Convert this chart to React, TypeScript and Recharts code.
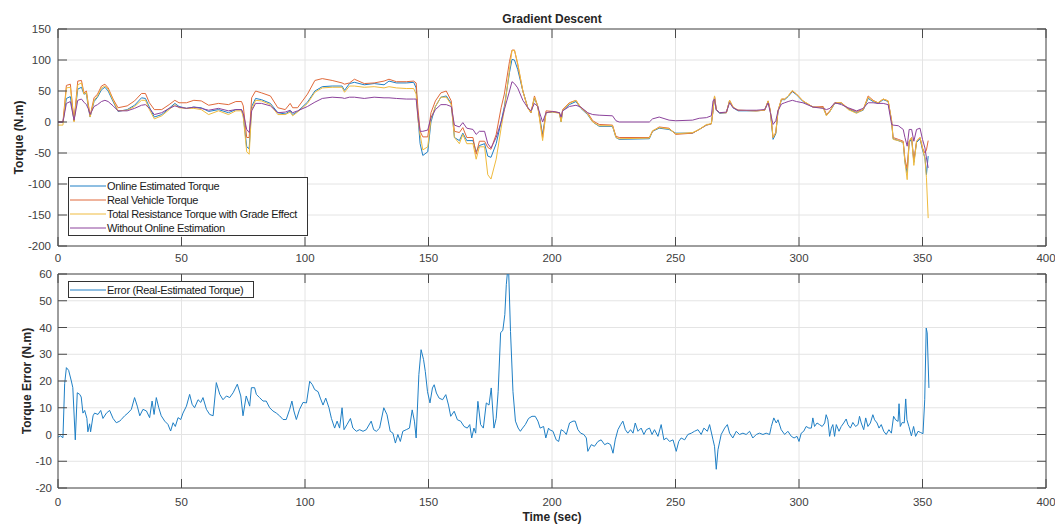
import { CartesianGrid, Legend, Line, LineChart, ReferenceLine, XAxis, YAxis } from "recharts";

// ---- top panel: torque traces (N.m) over time (sec) ----
const torqueTime = [
  0, 2, 3.4, 5, 6.5, 8, 9.5, 10.5, 11.5, 12.2,
  13, 14.6, 16, 17.6, 19, 20.3, 22.3, 24.3, 28, 31,
  33.8, 35.4, 37, 39, 42, 45, 47.3, 49, 52, 55,
  58, 61, 65, 69, 72, 74.3, 75, 76.4, 77.4, 78.4,
  80, 82.4, 86, 89, 92, 94, 95, 97, 101, 104,
  107, 111, 115, 116, 118, 120, 124, 128, 132, 134,
  137, 141, 144, 145, 145.7, 146.6, 147.7, 149.7, 151, 152.8,
  155, 157.2, 159.2, 160.5, 162.5, 163.9, 165.5, 168, 169.3, 170.6,
  172.7, 174, 175.3, 177.4, 179.4, 180.7, 182.8, 183.8, 184.8, 186.1,
  188.2, 190.2, 191.5, 192.9, 194.2, 196.2, 197.6, 200.3, 203, 203.7,
  204.3, 207, 209.7, 211.7, 214.4, 216.5, 219.1, 224.5, 225.9, 227.2,
  239.4, 240.7, 243.4, 247.4, 250.1, 256.9, 259.6, 262.5, 264.5, 265.2,
  265.8, 266.5, 267.9, 270.6, 271.9, 273.3, 275.3, 282.7, 286.1, 287.5,
  288.4, 289.5, 290.6, 291.5, 292.9, 294.2, 295.6, 297.3, 299, 301.6,
  305.7, 309.8, 311.1, 312.5, 314.5, 317.2, 319.9, 323.3, 326, 328,
  330, 332, 334.1, 336.1, 337.5, 338.1, 340.2, 342.2, 342.9, 343.8,
  344.6, 345.6, 346.5, 347.6, 349, 350, 351, 351.6, 352.3,
];

const estimatedTorque = [
  0, 0, 38, 41, 2, 53, 56, 45, 46, 25,
  8, 33, 40, 52, 56, 50, 33, 17, 20, 27,
  39, 38, 24, 8, 12, 22, 30, 25, 22, 24,
  23, 17, 20, 15, 20, 20, 10, -40, -43, 25,
  38, 36, 30, 15, 13, 18, 12, 17, 32, 50,
  57, 58, 58, 51, 62, 64, 60, 62, 60, 66,
  63, 63, 64, 55, 10, -35, -54, -48, 0, 25,
  40, 42, 30, -25, -30, -18, -30, -30, -48, -38,
  -35, -55, -57, -35, 0, 25, 80, 101, 100, 85,
  50, 23, 15, 38, 26, -20, 15, 16, 15, 0,
  18, 28, 33, 22, 12, 0, -7, -7, -25, -28,
  -27, -15, -10, -12, -18, -18, -12, -5, -3, 18,
  40, 19, 14, 15, 34, 23, 18, 18, 19, 33,
  17, -28, -19, 17, 36, 36, 41, 49, 44, 33,
  24, 23, 11, 17, 30, 30, 21, 15, 19, 38,
  33, 30, 36, 33, 0, -27, -30, -33, -65, -82,
  -33, -27, -65, -33, -27, -45, -58, -85, -55,
];

const realTorque = [
  0, 0, 59, 61, 2, 66, 67, 47, 50, 31,
  10, 39, 45, 58, 61, 55, 37, 23, 26, 34,
  46, 46, 31, 20, 20, 28, 35, 31, 31, 35,
  34, 27, 30, 28, 33, 33, 26, -25, -25, 39,
  50, 47, 42, 23, 20, 30, 23, 23, 45, 67,
  70, 67, 63, 61, 63, 69, 62, 63, 66, 69,
  65, 65, 66, 63, 23, -15, -24, -24, 15, 34,
  47, 50, 34, -15, -17, -9, -25, -25, -52, -31,
  -31, -41, -44, -20, 23, 45, 98, 116, 116, 93,
  50, 23, 15, 42, 26, -25, 18, 17, 15, 2,
  20, 31, 35, 23, 15, 2, -4, -5, -23, -25,
  -25, -15, -8, -10, -20, -18, -12, -5, -3, 18,
  42, 20, 15, 15, 35, 24, 19, 18, 19, 34,
  18, -25, -17, 18, 37, 37, 42, 50, 45, 34,
  24, 25, 12, 18, 31, 31, 22, 17, 20, 42,
  35, 31, 37, 34, 2, -25, -28, -31, -60, -75,
  -31, -25, -62, -31, -25, -42, -50, -45, -30,
];

const resistanceTorque = [
  -5, -5, 55, 56, 0, 60, 63, 45, 48, 28,
  8, 35, 42, 55, 58, 53, 35, 18, 19, 25,
  35, 35, 20, 5, 10, 20, 28, 23, 22, 22,
  20, 12, 18, 12, 18, 18, 8, -48, -52, 20,
  35, 34, 28, 12, 12, 16, 10, 16, 30, 48,
  55, 56, 56, 48, 58, 58, 56, 57, 55, 57,
  55, 54, 54, 45, 5, -20, -45, -40, 5, 25,
  40, 40, 28, -25, -35, -20, -35, -35, -60, -40,
  -40, -85, -92, -60, -10, 20, 85, 115, 116, 95,
  50, 22, 15, 40, 26, -30, 15, 16, 14, 0,
  19, 30, 35, 23, 13, 0, -6, -6, -25, -27,
  -26, -14, -9, -11, -19, -17, -12, -4, -3, 18,
  42, 20, 15, 15, 35, 24, 19, 18, 19, 34,
  18, -25, -17, 18, 37, 37, 42, 51, 45, 34,
  24, 23, 10, 17, 31, 31, 20, 14, 20, 40,
  34, 31, 37, 34, 2, -28, -30, -33, -65, -93,
  -31, -25, -70, -31, -25, -42, -60, -90, -155,
];

const withoutEstimation = [
  0, 0, 30, 33, 3, 35, 37, 32, 28, 22,
  12, 25, 28, 33, 35, 33, 26, 18, 18, 22,
  27, 28, 22, 12, 15, 22, 26, 24, 22, 24,
  22, 19, 22, 18, 20, 20, 14, -12, -17, 18,
  30, 30, 26, 15, 16, 19, 15, 18, 25, 32,
  38, 40, 39, 38, 40, 40, 38, 40, 39, 39,
  38, 37, 37, 37, 10, -15, -15, -13, 7, 20,
  28, 28, 25, -5, -8, -1, -10, -12, -20, -15,
  -15, -35, -42, -25, 0, 20, 50, 65, 62, 55,
  35, 23, 18, 30, 25, 0, 15, 17, 15, 8,
  18, 25, 27, 24, 15, 12, 11, 10, 2, 0,
  0, 5, 8, 3, 2, 3, 6, 7, 10, 34,
  37, 20, 15, 16, 31, 23, 19, 19, 20, 31,
  15, -4, 2, 18, 29, 31, 33, 35, 33, 31,
  24, 22, 20, 22, 31, 28, 23, 18, 22, 31,
  31, 30, 30, 28, -4, -5, -6, -12, -25, -39,
  -12, -12, -31, -12, -10, -28, -42, -58, -74,
];

// ---- bottom panel: error (real - estimated) ----
const errorTime = [
  0, 1, 2, 2.7, 3.4, 4.3, 5.4, 6, 7, 7.8,
  8.8, 9.4, 10.1, 10.8, 11.7, 12.1, 12.8, 13.2, 14.2, 14.8,
  16.2, 17.3, 18.2, 19.6, 20.9, 22.3, 23.6, 25, 25.6, 27,
  28.3, 29.7, 31, 32.1, 33.1, 34.4, 35.8, 37.1, 38.1, 38.9,
  39.8, 40.8, 41.8, 43.2, 44.5, 45.6, 46.6, 47.5, 48.6, 49.7,
  50.6, 52, 53.3, 54.3, 55.3, 56.7, 57.8, 58.7, 60.1, 61.4,
  62.8, 64.1, 65.5, 66.8, 68.2, 69.5, 70.9, 72.6, 74, 74.9,
  76.2, 77.6, 78.3, 79.6, 80.3, 81.6, 83, 84.3, 85.7, 87,
  88.4, 89.7, 91.1, 92.4, 93.8, 94.7, 95.5, 96.5, 97.8, 99.2,
  100.6, 101.9, 103, 103.9, 105.3, 106.2, 107.3, 108.4, 109.7, 110.7,
  112, 113, 114, 115, 115.8, 117, 118.4, 119.4, 120.8, 122.1,
  123.5, 124.8, 126.8, 127.8, 128.9, 130.2, 131.9, 133.2, 134.5, 135.6,
  136.6, 137.6, 138.6, 139.6, 141, 142.3, 143.4, 144.3, 145, 146.1,
  147, 148, 148.7, 149.6, 150.6, 151.6, 152.3, 153.2, 154.3, 155.7,
  157, 158.1, 159, 160.4, 161.7, 163, 164.4, 165.7, 166.7, 167.5,
  168.4, 169.1, 170, 171.1, 172.2, 173.4, 174.5, 175.4, 176.5, 177.4,
  178.2, 179.2, 180.1, 180.9, 181.5, 182, 182.5, 183.2, 184.2, 185.2,
  186.3, 187.2, 188.1, 189.2, 190.5, 191.9, 193.2, 194.3, 195.2, 196.6,
  197.5, 198.6, 199, 200.4, 201.7, 202.7, 203.7, 204.8, 205.8, 207.1,
  208.5, 209.4, 210.5, 211.6, 212.9, 213.9, 214.5, 215.9, 217.2, 218.6,
  219.9, 221.3, 222.6, 223.7, 224.7, 225.6, 226.7, 227.8, 228.7, 229.7,
  230.7, 231.8, 232.8, 233.7, 234.8, 236.1, 237.2, 238.2, 239.5, 240.5,
  241.5, 242.9, 244.2, 245.3, 246.3, 247.6, 249, 250.3, 251.3, 252.3,
  253.7, 255, 256.4, 257.7, 259.1, 260.4, 261.5, 262.9, 263.8, 265.2,
  265.8, 266.5, 267.2, 268.5, 269.9, 271, 271.9, 273.2, 274.6, 275.9,
  277.3, 278.6, 280, 281.3, 282.7, 284, 285.4, 286.7, 288.1, 288.8,
  289.8, 290.8, 291.5, 292.8, 294.2, 295.5, 296.9, 298, 299.2, 300,
  300.9, 301.9, 302.9, 304, 305, 305.6, 306.3, 307.3, 308.3, 309.4,
  310.4, 311, 311.7, 312.4, 313.1, 313.7, 314.4, 315.1, 316.2, 317.1,
  318.1, 319.1, 319.8, 320.8, 321.8, 322.9, 323.9, 324.5, 325.2, 326.2,
  327, 327.9, 328.9, 329.9, 330.6, 331.6, 332.4, 333.3, 334.3, 335.3,
  336.4, 337.4, 338.3, 339.1, 340.1, 340.5, 341, 341.8, 342.6, 343.2,
  343.7, 344.5, 345.5, 346.4, 347.2, 348.2, 349.1, 350.2, 350.9, 351.5,
  351.9, 352.6,
];

const errorValue = [
  -1, -0.5, -1.2, 19, 25, 24, 20, 17.5, -2, 15.6,
  15, 14, 8, 9, 6, 1, 4, 1, 7, 8,
  7.5, 9, 6, 8, 9, 6, 4.4, 5, 5.6, 7,
  8, 9.4, 13.8, 10.6, 7, 9.4, 8.8, 6.3, 12.5, 7.5,
  13.8, 10, 7, 5, 3.8, 1.3, 4.4, 3, 6.3, 5.6,
  8, 10.6, 15, 11.3, 10, 13, 12, 13.8, 9.4, 7.5,
  7, 19.4, 15, 13, 14.4, 13.8, 15.6, 18.8, 14.4, 7,
  14.4, 10.6, 17.5, 17.5, 15, 13.8, 12.5, 12.5, 10, 8.8,
  8, 7, 5.6, 5.6, 9.4, 12.5, 8.8, 5.6, 9.4, 12,
  11.8, 19.9, 18.6, 16.8, 16, 13.6, 11, 13.6, 10, 6,
  2.4, 5, 2.4, 10, 1.8, 3.7, 6, 2.4, 1.2, 1.8,
  1.2, 1.8, 5, 1.8, 1.2, 2.4, 10, 7.4, 1.2, 0.5,
  -3.2, 0, -2.6, 1.2, 1.8, 2.4, 9.2, 5, -1.3, 22.4,
  31.7, 28, 23.6, 16, 11.8, 17.4, 18.6, 15.5, 13.6, 13,
  14.9, 11, 6.8, 8.7, 5.5, 5, 3, 2.4, 3.7, -1.3,
  2.4, 0.5, 12.4, 3.7, 2.4, 11.8, 11, 17.4, 2.4, 6,
  16, 38, 39, 44.8, 56, 61, 59.7, 38.5, 16, 5,
  2.4, 1.2, 2.4, 3.7, 6, 6.8, 6.8, 5, 2.4, 3,
  -1.3, 2.4, 1.8, 1.2, -2, -2.6, 1.8, 1.2, 0, 4.3,
  5, 5, 1.8, 0.5, 0, -1.3, -6.3, -3.8, -4.4, -2.6,
  -2, -3.8, -3.2, -3.8, -7, -2, 1.8, 3.7, 5, 1.8,
  0.5, 1.8, 0.5, 4.3, 1.2, 2.4, 0, 1.8, 2.4, 0,
  1.8, -0.7, 3.7, -2, -1.3, -2.6, -2, -6.3, -2.6, -1.3,
  -2, 0, 0.5, 1.2, 1.8, 0, 2.4, 1.2, 3.7, -2,
  -4.4, -13, -5.7, 0, 2.4, 3.7, 0.5, -1.3, 1.2, 0,
  0.5, 0, 1.2, -1.3, 0, 0.5, 0, 0.5, 0, 3,
  6.2, 4.3, 5.5, 1.8, 0, 1.2, -0.7, -1.3, -0.7, -2.6,
  0.5, 1.2, 3, 2.4, 2.4, 6.2, 3, 4.3, 3.7, 3,
  4.3, 7.4, 5.5, -0.7, 2.4, 3.7, -0.7, 3.7, 1.2, 3,
  4.3, 5.8, 3.7, 2.4, 4.5, 3, 3.7, 6.8, 4.3, 1.8,
  6.2, 3, 4.3, 7.4, 5.5, 4.3, 2.4, 3.7, 1.2, 0,
  1.8, 0.5, 6.8, 5.5, 4.9, 11.5, 3, 4.5, 4.3, 13.3,
  5.5, 3, -0.5, 3, -0.7, 1.2, 0.8, 0.3, 13, 39.8,
  38, 17.4,
];

const timeTicks = [0, 50, 100, 150, 200, 250, 300, 350, 400];
const torqueTicks = [-200, -150, -100, -50, 0, 50, 100, 150];
const errorTicks = [-20, -10, 0, 10, 20, 30, 40, 50, 60];

const torqueSeries = [
  { key: "estimated", name: "Online Estimated Torque", color: "#1f7fc5", values: estimatedTorque },
  { key: "real", name: "Real Vehicle Torque", color: "#e0693a", values: realTorque },
  { key: "resistance", name: "Total Resistance Torque with Grade Effect", color: "#efbb3e", values: resistanceTorque },
  { key: "without", name: "Without Online Estimation", color: "#8c439c", values: withoutEstimation },
];
const errorSeries = { key: "error", name: "Error (Real-Estimated Torque)", color: "#1f7fc5" };

const torqueData = torqueTime.map((t, i) => {
  const row: Record<string, number> = { t };
  torqueSeries.forEach((s) => (row[s.key] = s.values[i]));
  return row;
});
const errorData = errorTime.map((t, i) => ({ t, error: errorValue[i] }));

// plot box (matlab-ish framing)
const PLOT_LEFT = 58;
const PLOT_RIGHT = 1046;
const AXIS = "#4a4a4a";
const LABEL = "#404040";
const GRID = "#e4e4e4";
const TICK_LEN = 9;
const FONT = "'Liberation Sans', Arial, Helvetica, sans-serif";

function yTick(props: any) {
  const { x, y, payload } = props;
  return (
    <g>
      <line x1={PLOT_LEFT} x2={PLOT_LEFT + TICK_LEN} y1={y} y2={y} stroke={AXIS} />
      <line x1={PLOT_RIGHT} x2={PLOT_RIGHT - TICK_LEN} y1={y} y2={y} stroke={AXIS} />
      <text x={x} y={y} dy="0.35em" textAnchor="end" fontSize={11.5} fill={LABEL}>
        {payload.value}
      </text>
    </g>
  );
}

function makeXTick(plotTop: number, plotBottom: number, labelGap: number) {
  return (props: any) => {
    const { x, payload } = props;
    return (
      <g>
        <line x1={x} x2={x} y1={plotBottom} y2={plotBottom - TICK_LEN} stroke={AXIS} />
        <line x1={x} x2={x} y1={plotTop} y2={plotTop + TICK_LEN} stroke={AXIS} />
        <text x={x} y={plotBottom + labelGap} textAnchor="middle" fontSize={11.5} fill={LABEL}>
          {payload.value}
        </text>
      </g>
    );
  };
}

function boldText(text: string, x: number, y: number, rotate = false) {
  return () => (
    <text
      x={x}
      y={y}
      transform={rotate ? `rotate(-90 ${x} ${y})` : undefined}
      textAnchor="middle"
      dominantBaseline={rotate ? "central" : undefined}
      fontSize={12}
      fontWeight="bold"
      fill="#262626"
    >
      {text}
    </text>
  );
}

function LegendBox({ items, width, height }: { items: { name: string; color: string }[]; width: number; height: number }) {
  return (
    <div
      style={{
        boxSizing: "border-box",
        width,
        height,
        border: "1px solid #333",
        background: "#fff",
        paddingTop: 1,
        fontSize: 11,
        letterSpacing: -0.35,
        lineHeight: "14px",
        color: "#1a1a1a",
        fontFamily: FONT,
      }}
    >
      {items.map((it) => (
        <div key={it.name} style={{ display: "flex", alignItems: "center", whiteSpace: "nowrap", height: 14 }}>
          <svg width={38} height={14} style={{ flex: "none" }}>
            <line x1={1} x2={37} y1={7} y2={7} stroke={it.color} strokeWidth={1} />
          </svg>
          <span>{it.name}</span>
        </div>
      ))}
    </div>
  );
}

export default function App() {
  // top panel: svg 0..272, plot 29..246
  const topH = 272;
  const topTop = 29;
  const topBottom = 246;
  // bottom panel: svg starts at page y=262, plot 274..488 on the page
  const botOffset = 262;
  const botH = 263;
  const botTop = 12;
  const botBottom = 226;

  return (
    <div
      style={{
        position: "absolute",
        left: 0,
        top: 0,
        width: 1055,
        height: 525,
        background: "#fff",
        fontFamily: FONT,
      }}
    >
      <div style={{ position: "absolute", left: 0, top: botOffset }}>
        <LineChart width={1055} height={botH} data={errorData} margin={{ top: botTop, right: 1055 - PLOT_RIGHT, left: 0, bottom: 0 }}>
          <CartesianGrid stroke={GRID} />
          <XAxis
            dataKey="t"
            type="number"
            domain={[0, 400]}
            ticks={timeTicks}
            interval={0}
            height={botH - botBottom}
            tickLine={false}
            tickSize={0}
            axisLine={{ stroke: AXIS }}
            tick={makeXTick(botTop, botBottom, 18)}
            allowDataOverflow
            label={boldText("Time (sec)", (PLOT_LEFT + PLOT_RIGHT) / 2, 259)}
          />
          <YAxis
            domain={[-20, 60]}
            ticks={errorTicks}
            interval={0}
            width={PLOT_LEFT}
            tickLine={false}
            tickSize={0}
            tickMargin={6}
            axisLine={{ stroke: AXIS }}
            tick={yTick}
            allowDataOverflow
            label={boldText("Torque Error (N.m)", 27, (botTop + botBottom) / 2, true)}
          />
          <ReferenceLine y={60} stroke={AXIS} />
          <ReferenceLine x={400} stroke={AXIS} />
          <Line
            dataKey={errorSeries.key}
            name={errorSeries.name}
            type="linear"
            stroke={errorSeries.color}
            strokeWidth={1}
            dot={false}
            activeDot={false}
            isAnimationActive={false}
          />
          <Legend
            layout="vertical"
            align="center"
            verticalAlign="middle"
            wrapperStyle={{ left: 68, top: 19, width: 186, height: 17 }}
            content={() => <LegendBox items={[errorSeries]} width={186} height={17} />}
          />
        </LineChart>
      </div>

      <div style={{ position: "absolute", left: 0, top: 0 }}>
        <LineChart width={1055} height={topH} data={torqueData} margin={{ top: topTop, right: 1055 - PLOT_RIGHT, left: 0, bottom: 0 }}>
          <CartesianGrid stroke={GRID} />
          <XAxis
            dataKey="t"
            type="number"
            domain={[0, 400]}
            ticks={timeTicks}
            interval={0}
            height={topH - topBottom}
            tickLine={false}
            tickSize={0}
            axisLine={{ stroke: AXIS }}
            tick={makeXTick(topTop, topBottom, 16)}
            allowDataOverflow
          />
          <YAxis
            domain={[-200, 150]}
            ticks={torqueTicks}
            interval={0}
            width={PLOT_LEFT}
            tickLine={false}
            tickSize={0}
            tickMargin={7}
            axisLine={{ stroke: AXIS }}
            tick={yTick}
            allowDataOverflow
            label={boldText("Torque (N.m)", 19, (topTop + topBottom) / 2, true)}
          />
          <ReferenceLine y={150} stroke={AXIS} label={boldText("Gradient Descent", (PLOT_LEFT + PLOT_RIGHT) / 2, 23)} />
          <ReferenceLine x={400} stroke={AXIS} />
          {torqueSeries.map((s) => (
            <Line
              key={s.key}
              dataKey={s.key}
              name={s.name}
              type="linear"
              stroke={s.color}
              strokeWidth={1}
              dot={false}
              activeDot={false}
              isAnimationActive={false}
            />
          ))}
          <Legend
            layout="vertical"
            align="center"
            verticalAlign="middle"
            wrapperStyle={{ left: 68, top: 177, width: 240, height: 59 }}
            content={() => <LegendBox items={torqueSeries} width={240} height={59} />}
          />
        </LineChart>
      </div>
    </div>
  );
}
